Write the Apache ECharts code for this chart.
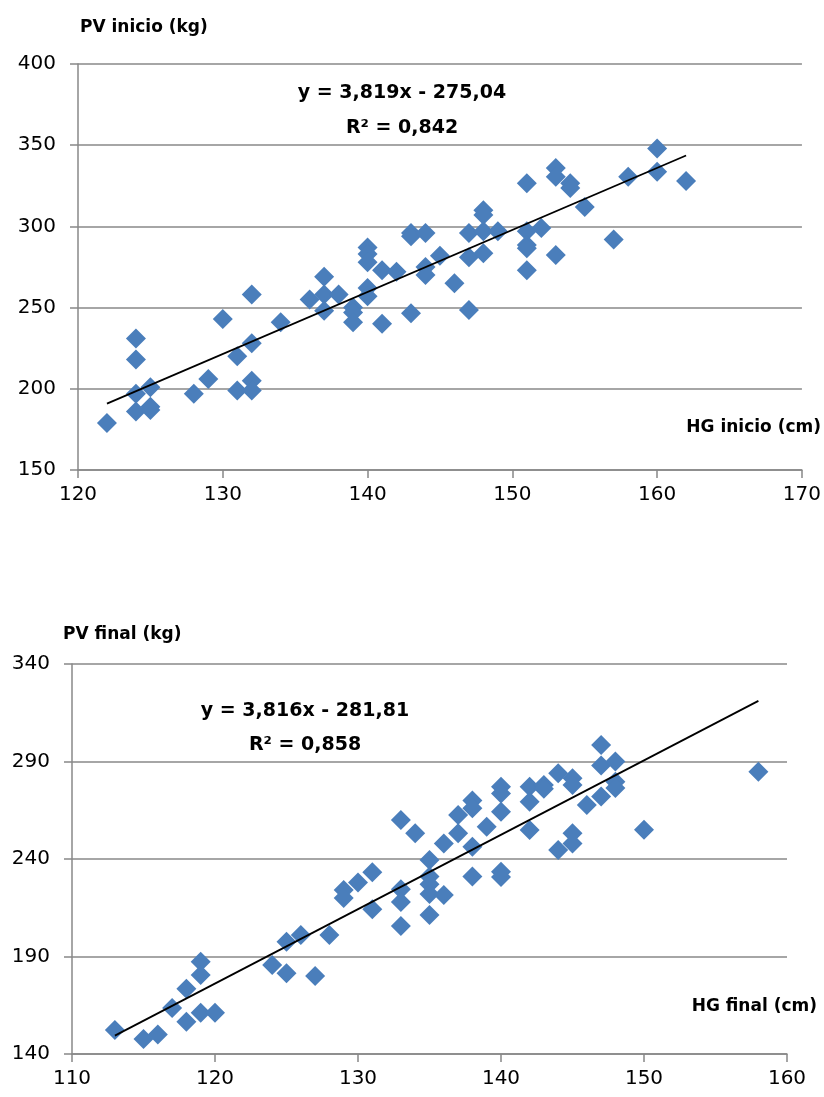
<!DOCTYPE html>
<html>
	<head>
		<meta charset="utf-8" />
		<title>PV vs HG</title>
		<script src="https://cdn.jsdelivr.net/npm/echarts@6/dist/echarts.min.js"></script>
		<style>
			body { margin: 0; background: #fff; }
		</style>
	</head>

	<body>
		<div id="main" style="width: 824px;height:1097px;"></div>
		<script type="text/javascript">
			// datos: [HG cm, PV kg]
			var inicioPts = [
				[122,179],[124,231],[124,218],[124,197],[124,186],[125,201],[125,189],[125,187],
				[128,197],[129,206],[130,243],[131,220],[131,199],[132,258],[132,228],[132,205],
				[132,199],[134,241],[136,255],[137,269],[137,258],[137,248],[138,258],[139,250],
				[139,247],[139,241],[140,287],[140,283],[140,278],[140,262],[140,257],[141,273],
				[141,240],[142,272],[143,296],[143,294],[143,246.5],[144,296],[144,275],[144,270],
				[145,282],[146,265],[147,296],[147,281],[147,248.5],[148,310],[148,307],[148,297],
				[148,283.5],[149,297],[151,326.5],[151,297],[151,288.6],[151,286.6],[151,273],
				[152,299],[153,336],[153,330.6],[153,282.4],[154,326.5],[154,323.6],[155,312],
				[157,292],[158,330.6],[160,348],[160,333.7],[162,328]
			];
			var finalPts = [
				[113,152.3],[115,147.7],[116,150],[117,163.6],[118,173.4],[118,156.6],[119,187.3],
				[119,180.5],[119,161.2],[120,161.2],[124,185.7],[125,181.4],[125,197.6],[126,201],
				[127,180],[128,201],[129,224.1],[129,220],[130,228],[131,233.2],[131,214.2],
				[133,260],[133,224.5],[133,218],[133,205.6],[134,253.2],[135,239.5],[135,231],
				[135,227],[135,222],[135,211.3],[136,248],[136,221.6],[137,262.6],[137,253.2],
				[138,270],[138,266],[138,246.3],[138,231],[139,256.6],[140,277],[140,273.6],
				[140,264.2],[140,233.5],[140,230.8],[142,277],[142,269.4],[142,254.9],[143,278],
				[143,276],[144,284],[144,244.6],[145,281.4],[145,278],[145,253.2],[145,248],
				[146,267.7],[147,298.5],[147,288],[147,272],[148,290],[148,279.6],[148,276.4],
				[150,255],[158,284.8]
			];
			// extremos de las lineas de tendencia
			var trendInicio = [[122,190.87],[162,343.64]];
			var trendFinal = [[113,149.4],[158,321.1]];

			var eqInicio = ['y = 3,819x - 275,04', 'R² = 0,842'];
			var eqFinal = ['y = 3,816x - 281,81', 'R² = 0,858'];

			var fontFam = '"DejaVu Sans", sans-serif';
			var gridColor = '#888888';
			var dotColor = '#4a7ebb';

			function xAx(idx, min, max) {
				return {
					gridIndex: idx, type: 'value', min: min, max: max, interval: 10,
					axisLine: { onZero: false, lineStyle: { color: gridColor, width: 1.5 } },
					axisTick: { show: true, length: 8, lineStyle: { color: gridColor, width: 1.5 } },
					axisLabel: { color: '#000', fontSize: 20, fontFamily: fontFam, margin: 15 },
					splitLine: { show: false }
				};
			}
			function yAx(idx, min, max) {
				return {
					gridIndex: idx, type: 'value', min: min, max: max, interval: 50,
					axisLine: { show: true, onZero: false, lineStyle: { color: gridColor, width: 1.5 } },
					axisTick: { show: true, length: 8, lineStyle: { color: gridColor, width: 1.5 } },
					axisLabel: { color: '#000', fontSize: 20, fontFamily: fontFam, margin: 22 },
					splitLine: { show: true, lineStyle: { color: gridColor, width: 1.5 } }
				};
			}
			function txt(s, x, y, align, size) {
				return {
					type: 'text', x: x, y: y, z: 100,
					style: {
						text: s, fill: '#000', fontSize: size, fontWeight: 'bold',
						fontFamily: fontFam, align: align, verticalAlign: 'middle'
					}
				};
			}

			var myChart = echarts.init(document.getElementById('main'));
			var option = {
				animation: false,
				backgroundColor: '#fff',
				grid: [
					{ left: 78, right: 21, top: 64, height: 406 },
					{ left: 72, right: 37, top: 664, height: 390 }
				],
				xAxis: [ xAx(0, 120, 170), xAx(1, 110, 160) ],
				yAxis: [ yAx(0, 150, 400), yAx(1, 140, 340) ],
				graphic: [
					txt('PV inicio (kg)', 80, 28, 'left', 17),
					txt('HG inicio (cm)', 821, 428, 'right', 17),
					txt(eqInicio[0], 402, 93, 'center', 19),
					txt(eqInicio[1], 402, 128, 'center', 19),
					txt('PV final (kg)', 63, 635, 'left', 17),
					txt('HG final (cm)', 817, 1007, 'right', 17),
					txt(eqFinal[0], 305, 711, 'center', 19),
					txt(eqFinal[1], 305, 745, 'center', 19)
				],
				series: [
					{
						type: 'scatter', xAxisIndex: 0, yAxisIndex: 0,
						symbol: 'diamond', symbolSize: 20,
						itemStyle: { color: dotColor, opacity: 1 },
						data: inicioPts
					},
					{
						type: 'line', xAxisIndex: 0, yAxisIndex: 0, z: 5,
						symbol: 'none', lineStyle: { color: '#000', width: 1.8 },
						data: trendInicio
					},
					{
						type: 'scatter', xAxisIndex: 1, yAxisIndex: 1,
						symbol: 'diamond', symbolSize: 20,
						itemStyle: { color: dotColor, opacity: 1 },
						data: finalPts
					},
					{
						type: 'line', xAxisIndex: 1, yAxisIndex: 1, z: 5,
						symbol: 'none', lineStyle: { color: '#000', width: 1.8 },
						data: trendFinal
					}
				]
			};
			myChart.setOption(option);
		</script>

	</body>

</html>
